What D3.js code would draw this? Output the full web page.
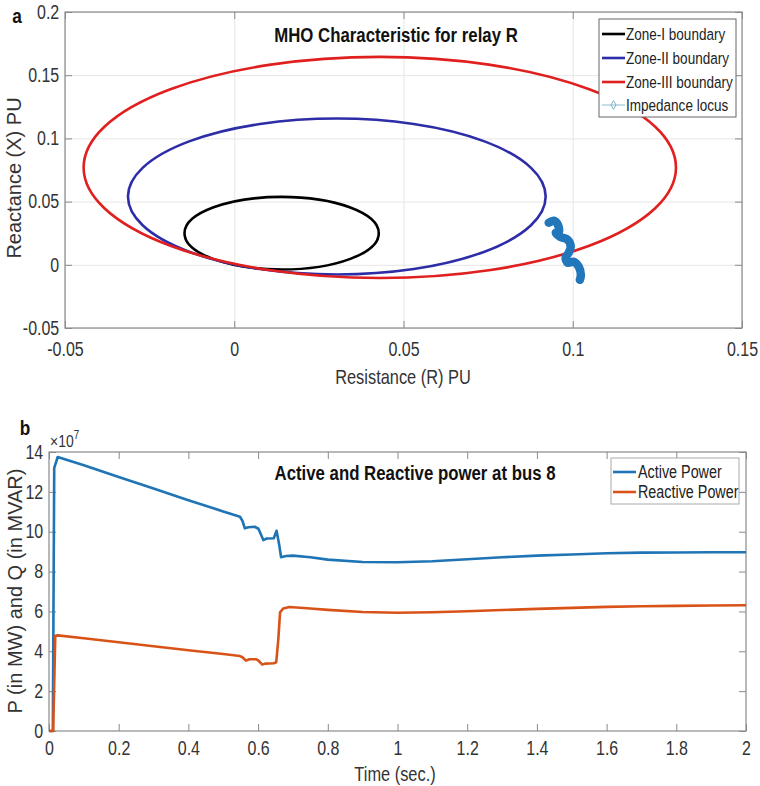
<!DOCTYPE html>
<html><head><meta charset="utf-8">
<script src="https://cdn.jsdelivr.net/npm/d3@7"></script>
<style>body{margin:0;background:#fff}svg{display:block;font-family:"Liberation Sans",Arial,sans-serif}</style>
</head><body><svg id="c" width="760" height="786"></svg>
<script>
// ---------- Panel a data ----------
const zoneNames   = ["Zone-I boundary","Zone-II boundary","Zone-III boundary"];
const zoneCenterR = [0.014, 0.0303, 0.043];
const zoneCenterX = [0.025, 0.054, 0.077];
const zoneRadius  = [0.0287, 0.0617, 0.0875];
const zoneColors  = ["#000000", "#2d2da8", "#e01f1f"];
const locusR = [0.0929,0.0944,0.0956,0.0959,0.0950,0.0962,0.0985,0.0994,0.0988,0.0979,0.0985,0.1003,0.1018,0.1024,0.1021];
const locusX = [0.0333,0.0349,0.0317,0.0262,0.0254,0.0222,0.0198,0.0143,0.0095,0.0056,0.0016,0.0024,-0.0016,-0.0079,-0.0119];
const xTicksA = [-0.05,0,0.05,0.1,0.15];
const yTicksA = [-0.05,0,0.05,0.1,0.15,0.2];

// ---------- Panel b data (values in units of 1e7) ----------
const timeP  = [0,0.011,0.015,0.025,0.1,0.2,0.3,0.4,0.5,0.548,0.555,0.562,0.572,0.59,0.601,0.615,0.625,0.645,0.653,0.66,0.666,0.68,0.7,0.75,0.8,0.9,1.0,1.1,1.2,1.3,1.4,1.5,1.6,1.7,1.8,1.9,2.0];
const activeP= [0,0,13.2,13.75,13.33,12.75,12.17,11.58,11.02,10.75,10.55,10.17,10.22,10.25,10.15,9.58,9.66,9.67,10.05,9.4,8.72,8.78,8.8,8.72,8.6,8.48,8.47,8.52,8.62,8.72,8.8,8.86,8.92,8.95,8.96,8.97,8.97];
const timeQ  = [0,0.012,0.018,0.025,0.1,0.2,0.3,0.4,0.5,0.548,0.555,0.565,0.575,0.595,0.6,0.612,0.62,0.645,0.652,0.658,0.663,0.672,0.69,0.75,0.8,0.9,1.0,1.1,1.2,1.3,1.4,1.5,1.6,1.7,1.8,1.9,2.0];
const reactQ = [0,0,4.78,4.8,4.65,4.45,4.25,4.05,3.86,3.76,3.7,3.53,3.6,3.6,3.55,3.33,3.38,3.4,3.45,4.6,5.95,6.15,6.22,6.15,6.08,5.97,5.93,5.96,6.01,6.07,6.13,6.18,6.23,6.26,6.28,6.3,6.31];
const seriesNames = ["Active Power","Reactive Power"];
const seriesColors = ["#1f74b6","#d95319"];
const xTicksB = [0,0.2,0.4,0.6,0.8,1,1.2,1.4,1.6,1.8,2];
const yTicksB = [0,2,4,6,8,10,12,14];

const svg = d3.select("#c");
svg.append("rect").attr("width",760).attr("height",786).attr("fill","#fff");
const SX = 0.82;
const AX = "#8a8a8a", TXT = "#333";

function txt(g,x,y,s,o={}){
  const t = g.append("text")
    .attr("transform",`translate(${x},${y}) scale(${o.noSquish?1:SX},1)${o.rotate?` rotate(${o.rotate})`:""}`)
    .attr("text-anchor",o.anchor||"middle")
    .attr("font-size",o.size||19)
    .attr("font-weight",o.weight||"normal")
    .attr("fill",o.fill||TXT)
    .text(s);
  return t;
}
const fmt = d => String(Math.round(d*100)/100);

function frameAxes(g,x,y,xt,yt,grid){
  const [x0,x1]=x.range(), [y0,y1]=y.range();
  if(grid){
    g.append("g").attr("transform",`translate(0,${y0})`)
      .call(d3.axisBottom(x).tickValues(xt).tickSize(-(y0-y1)).tickFormat(""))
      .call(s=>{s.select(".domain").remove();s.selectAll("line").attr("stroke","#e6e6e6");});
    g.append("g").attr("transform",`translate(${x0},0)`)
      .call(d3.axisLeft(y).tickValues(yt).tickSize(-(x1-x0)).tickFormat(""))
      .call(s=>{s.select(".domain").remove();s.selectAll("line").attr("stroke","#e6e6e6");});
  }
  const style = s=>{s.select(".domain").remove();s.selectAll("line").attr("stroke",AX);};
  g.append("g").attr("class","bx").attr("transform",`translate(0,${y0})`)
    .call(d3.axisBottom(x).tickValues(xt).tickSizeInner(-7).tickSizeOuter(0).tickPadding(14).tickFormat(fmt)).call(style);
  g.append("g").attr("transform",`translate(0,${y1})`)
    .call(d3.axisTop(x).tickValues(xt).tickSizeInner(-7).tickSizeOuter(0).tickFormat("")).call(style);
  g.append("g").attr("class","ly").attr("transform",`translate(${x0},0)`)
    .call(d3.axisLeft(y).tickValues(yt).tickSizeInner(-7).tickSizeOuter(0).tickFormat(fmt)).call(style);
  g.append("g").attr("transform",`translate(${x1},0)`)
    .call(d3.axisRight(y).tickValues(yt).tickSizeInner(-7).tickSizeOuter(0).tickFormat("")).call(style);
  g.selectAll(".bx text").attr("font-size",19.5).attr("fill",TXT).attr("font-family","Liberation Sans, Arial")
    .attr("transform",`scale(${SX},1)`);
  g.selectAll(".ly text").attr("font-size",19.5).attr("fill",TXT).attr("font-family","Liberation Sans, Arial")
    .attr("x",-7).attr("transform",`scale(${SX},1)`);
  g.append("rect").attr("x",x0).attr("y",y1).attr("width",x1-x0).attr("height",y0-y1)
    .attr("fill","none").attr("stroke",AX).attr("stroke-width",1.2);
}

// ================= Panel a =================
const xA = d3.scaleLinear().domain([-0.05,0.15]).range([65,742]);
const yA = d3.scaleLinear().domain([-0.05,0.2]).range([328,12]);
const gA = svg.append("g");
frameAxes(gA,xA,yA,xTicksA,yTicksA,true);
svg.append("clipPath").attr("id","ca").append("rect")
  .attr("x",65).attr("y",12).attr("width",677).attr("height",316);
const plotA = gA.append("g").attr("clip-path","url(#ca)");
zoneNames.forEach((n,i)=>{
  plotA.append("ellipse")
    .attr("cx",xA(zoneCenterR[i])).attr("cy",yA(zoneCenterX[i]))
    .attr("rx",xA(zoneRadius[i])-xA(0)).attr("ry",yA(0)-yA(zoneRadius[i]))
    .attr("fill","none").attr("stroke",zoneColors[i]).attr("stroke-width",2.6);
});
const locus = locusR.map((r,i)=>[r,locusX[i]]);
plotA.append("path").datum(locus)
  .attr("d",d3.line().x(d=>xA(d[0])).y(d=>yA(d[1])).curve(d3.curveCatmullRom))
  .attr("fill","none").attr("stroke","#2277bb").attr("stroke-width",8.5)
  .attr("stroke-linecap","round").attr("stroke-linejoin","round");

txt(gA,396,42,"MHO Characteristic for relay R",{size:20.5,weight:"bold",fill:"#111"});
txt(gA,403,384,"Resistance (R) PU",{size:20});
txt(gA,21,178,"Reactance (X) PU",{size:20,rotate:-90,noSquish:true});
txt(gA,17,23,"a",{size:21,weight:"bold",fill:"#111"});

// legend a
const lgA = gA.append("g");
lgA.append("rect").attr("x",599).attr("y",19).attr("width",137).attr("height",98)
  .attr("fill","#fff").attr("stroke","#666").attr("stroke-width",1);
const legY = [34,58,82,105];
zoneNames.forEach((n,i)=>{
  lgA.append("line").attr("x1",602).attr("x2",625).attr("y1",legY[i]).attr("y2",legY[i])
    .attr("stroke",zoneColors[i]).attr("stroke-width",2.6);
  txt(lgA,626,legY[i]+6,n,{size:16.5,anchor:"start",fill:"#222"});
});
lgA.append("line").attr("x1",602).attr("x2",625).attr("y1",legY[3]).attr("y2",legY[3])
  .attr("stroke","#9cc8d6").attr("stroke-width",1.2);
lgA.append("path").attr("d",d3.symbol(d3.symbolDiamond,22)())
  .attr("transform",`translate(613.5,${legY[3]})`).attr("fill","none").attr("stroke","#7fb3c8");
txt(lgA,626,legY[3]+6,"Impedance locus",{size:16.5,anchor:"start",fill:"#222"});

// ================= Panel b =================
const xB = d3.scaleLinear().domain([0,2]).range([49,746]);
const yB = d3.scaleLinear().domain([0,14]).range([731,452]);
const gB = svg.append("g");
frameAxes(gB,xB,yB,xTicksB,yTicksB,false);
gB.selectAll(".bx text").attr("y",10);
gB.selectAll(".ly text").attr("x",-7);
const lineB = d3.line().x(d=>xB(d[0])).y(d=>yB(d[1]));
gB.append("path").datum(timeP.map((t,i)=>[t,activeP[i]])).attr("d",lineB)
  .attr("fill","none").attr("stroke",seriesColors[0]).attr("stroke-width",2.6).attr("stroke-linejoin","round");
gB.append("path").datum(timeQ.map((t,i)=>[t,reactQ[i]])).attr("d",lineB)
  .attr("fill","none").attr("stroke",seriesColors[1]).attr("stroke-width",2.6).attr("stroke-linejoin","round");

txt(gB,415,480,"Active and Reactive power at bus 8",{size:20.5,weight:"bold",fill:"#111"});
txt(gB,395,781,"Time (sec.)",{size:20});
txt(gB,22,591,"P (in MW) and Q (in MVAR)",{size:20,rotate:-90,noSquish:true});
txt(gB,25,435,"b",{size:21,weight:"bold",fill:"#111"});
const ex = txt(gB,50,447,"×10",{size:17,anchor:"start"});
ex.append("tspan").attr("dy",-8).attr("font-size",12).text("7");

const lgB = gB.append("g");
lgB.append("rect").attr("x",611).attr("y",458).attr("width",128).attr("height",46)
  .attr("fill","#fff").attr("stroke","#aaa").attr("stroke-width",1);
[472,492].forEach((yy,i)=>{
  lgB.append("line").attr("x1",613).attr("x2",636).attr("y1",yy).attr("y2",yy)
    .attr("stroke",seriesColors[i]).attr("stroke-width",2.6);
  txt(lgB,638,yy+6,seriesNames[i],{size:17.5,anchor:"start",fill:"#222"});
});
</script></body></html>
